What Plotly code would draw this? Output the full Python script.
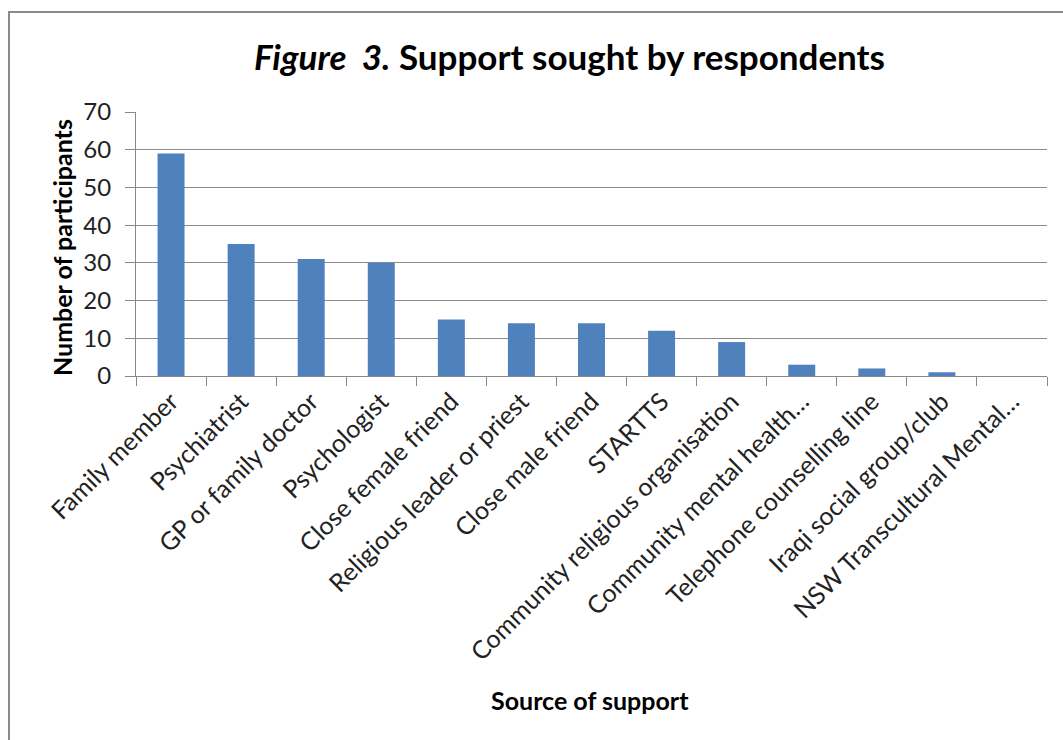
import plotly.graph_objects as go

categories = ["Family member", "Psychiatrist", "GP or family doctor", "Psychologist",
              "Close female friend", "Religious leader or priest", "Close male friend",
              "STARTTS", "Community religious organisation", "Community mental health\u2026",
              "Telephone counselling line", "Iraqi social group/club", "NSW Transcultural Mental\u2026"]
values = [59, 35, 31, 30, 15, 14, 14, 12, 9, 3, 2, 1, 0]
y_ticks = [0, 10, 20, 30, 40, 50, 60, 70]

FONT = "Lato"
W, H = 1063, 740
L, R, T, B = 136, 16, 112, 364
pw, ph = W - L - R, H - T - B

def px(x):
    return (x - L) / pw

def py(y):
    return (H - B - y) / ph

fig = go.Figure(go.Bar(x=categories, y=values, marker=dict(color="#4F81BD", line=dict(width=0))))

fig.update_layout(
    width=W, height=H,
    margin=dict(l=L, r=R, t=T, b=B, autoexpand=False),
    paper_bgcolor="white", plot_bgcolor="white",
    bargap=0.615,
    showlegend=False,
    font=dict(family=FONT, size=24, color="#222"),
)
fig.update_xaxes(
    type="category", tickangle=-45, tickson="boundaries",
    ticks="outside", ticklen=9, tickcolor="#888", tickwidth=1,
    showline=True, linecolor="#888", linewidth=1, automargin=False,
    showgrid=False, tickfont=dict(family=FONT, size=25, color="#222"),
)
fig.update_yaxes(
    range=[0, 70], tickvals=y_ticks,
    ticks="outside", ticklen=10, tickcolor="#888", automargin=False,
    ticklabelstandoff=9,
    showline=True, linecolor="#888", linewidth=1,
    showgrid=True, gridcolor="#8c8c8c", gridwidth=1, zeroline=False,
    tickfont=dict(family=FONT, size=24, color="#222"),
)

fig.add_annotation(
    text="<b><i>Figure  3.</i> Support sought by respondents</b>",
    xref="paper", yref="paper", x=px(569), y=py(56), xanchor="center", yanchor="middle",
    showarrow=False, font=dict(family=FONT, size=35, color="#000"),
)
fig.add_annotation(
    text="<b>Number of participants</b>", textangle=-90,
    xref="paper", yref="paper", x=px(62), y=py(248), xanchor="center", yanchor="middle",
    showarrow=False, font=dict(family=FONT, size=25, color="#000"),
)
fig.add_annotation(
    text="<b>Source of support</b>",
    xref="paper", yref="paper", x=px(590), y=py(700), xanchor="center", yanchor="middle",
    showarrow=False, font=dict(family=FONT, size=25, color="#000"),
)
fig.add_shape(
    type="rect", xref="paper", yref="paper",
    x0=px(9), y0=py(800), x1=px(1100), y1=py(12),
    line=dict(color="#8a8a8a", width=2), layer="above",
)

fig.write_html("out.html")
